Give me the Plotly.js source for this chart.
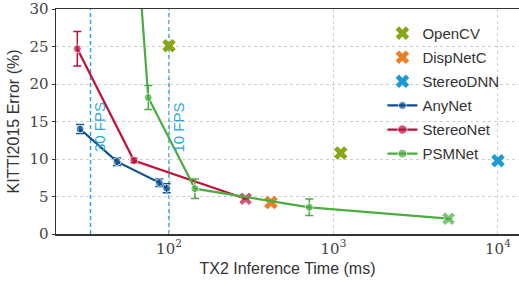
<!DOCTYPE html>
<html>
<head>
<meta charset="utf-8">
<script src="https://cdn.plot.ly/plotly-3.0.1.min.js"></script>
<style>html,body{margin:0;padding:0;background:#fff;}#chart{width:519px;height:282px;}</style>
</head>
<body>
<div id="chart"></div>
<script>
// ---- data ----
const anynetTime = [28.8, 48.3, 87.3, 96.8];
const anynetErr = [14.0, 9.65, 6.85, 6.1];
const anynetStd = [0.6, 0.5, 0.5, 0.6];

const stereonetTime = [27.7, 61.2, 292];
const stereonetErr = [24.7, 9.8, 4.7];
const stereonetStd = [2.3, 0.3, 0];

const psmnetTime = [62, 74.8, 143.8, 713, 5012];
const psmnetErr = [42.5, 18.2, 6.05, 3.56, 2.04];
const psmnetStd = [0, 1.6, 1.3, 1.1, 0];

const opencvTime = [100, 1107];
const opencvErr = [25.1, 10.8];
const dispnetTime = [417];
const dispnetErr = [4.2];
const stereodnnTime = [10000];
const stereodnnErr = [9.77];

const fpsValues = [30, 10];
const fpsLabels = ['30 FPS', '10 FPS'];
const xTickVals = [100, 1000, 10000];
const xTickText = ['10<sup>2</sup>', '10<sup>3</sup>', '10<sup>4</sup>'];
const yTickVals = [0, 5, 10, 15, 20, 25, 30];

// ---- styles ----
const C = {
  opencv: '#88a614', dispnet: '#ec7d22', stereodnn: '#1b9ad6',
  anynet: '#0b4e8e', stereonet: '#c0103a', psmnet: '#4aad3f', fps: '#2aa6dc'
};
const sansFont = "Liberation Sans";
const serifFont = "DejaVu Serif";

function xTrace(name, xs, ys, color, grp) {
  return {x: xs, y: ys, name: name, type: 'scatter', mode: 'markers', legendgroup: grp,
    marker: {symbol: 'x', size: 12, color: color, line: {width: 0}}};
}
function lineTrace(name, xs, ys, std, color, grp, lastX) {
  const sym = xs.map((v, i) => (lastX && i === xs.length - 1) ? 'x' : 'circle');
  const sz = xs.map((v, i) => (lastX && i === xs.length - 1) ? 12 : 8);
  return {x: xs, y: ys, name: name, type: 'scatter', mode: 'lines+markers', legendgroup: grp,
    line: {color: color, width: 2.2},
    marker: {symbol: sym, size: sz, color: color},
    error_y: {type: 'data', array: std, visible: true, color: color, thickness: 1.5, width: 4}};
}

const traces = [
  xTrace('OpenCV', opencvTime, opencvErr, C.opencv, 'g1'),
  xTrace('DispNetC', dispnetTime, dispnetErr, C.dispnet, 'g2'),
  xTrace('StereoDNN', stereodnnTime, stereodnnErr, C.stereodnn, 'g3'),
  lineTrace('AnyNet', anynetTime, anynetErr, anynetStd, C.anynet, 'g4', false),
  lineTrace('StereoNet', stereonetTime, stereonetErr, stereonetStd, C.stereonet, 'g5', true),
  lineTrace('PSMNet', psmnetTime, psmnetErr, psmnetStd, C.psmnet, 'g6', true)
];

const shapes = fpsValues.map(f => ({
  type: 'line', xref: 'x', yref: 'paper', x0: 1000 / f, x1: 1000 / f, y0: 0, y1: 1,
  line: {color: C.fps, width: 1.5, dash: '4px,3px'}, layer: 'below'
}));
const annotations = fpsValues.map((f, i) => ({
  xref: 'x', yref: 'y', x: Math.log10(1000 / f), y: 14.2, text: fpsLabels[i],
  textangle: -90, showarrow: false, xanchor: 'center', yanchor: 'middle', xshift: 9,
  font: {family: sansFont, size: 15, color: C.fps}
}));

const layout = {
  width: 519, height: 282,
  margin: {l: 56, r: 0, t: 9, b: 48},
  paper_bgcolor: '#fff', plot_bgcolor: '#fff',
  showlegend: true,
  legend: {x: 0.705, y: 0.965, xanchor: 'left', yanchor: 'top', bgcolor: 'rgba(255,255,255,0)',
    font: {family: sansFont, size: 15, color: '#333'}, tracegroupgap: 1.6, itemwidth: 30},
  xaxis: {type: 'log', range: [1.313, 4.128], tickvals: xTickVals, ticktext: xTickText,
    showgrid: true, gridcolor: '#cfcfcf', griddash: 'dot', gridwidth: 1,
    showline: true, linecolor: '#333', linewidth: 1.5, mirror: true, ticks: '', zeroline: false,
    tickfont: {family: serifFont, size: 15, color: '#444'},
    title: {text: 'TX2 Inference Time (ms)', font: {family: sansFont, size: 16, color: '#333'}, standoff: 6}},
  yaxis: {range: [0, 30], tickvals: yTickVals, showgrid: true, gridcolor: '#cfcfcf', griddash: 'dot', gridwidth: 1,
    showline: true, linecolor: '#333', linewidth: 1.5, ticks: 'outside', ticklen: 3, tickcolor: '#333', zeroline: false,
    tickfont: {family: serifFont, size: 15, color: '#444'},
    title: {text: 'KITTI2015 Error (%)', font: {family: sansFont, size: 16, color: '#333'}, standoff: 6}},
  shapes: shapes,
  annotations: annotations
};

Plotly.newPlot('chart', traces, layout, {displayModeBar: false, staticPlot: true});
</script>
</body>
</html>
